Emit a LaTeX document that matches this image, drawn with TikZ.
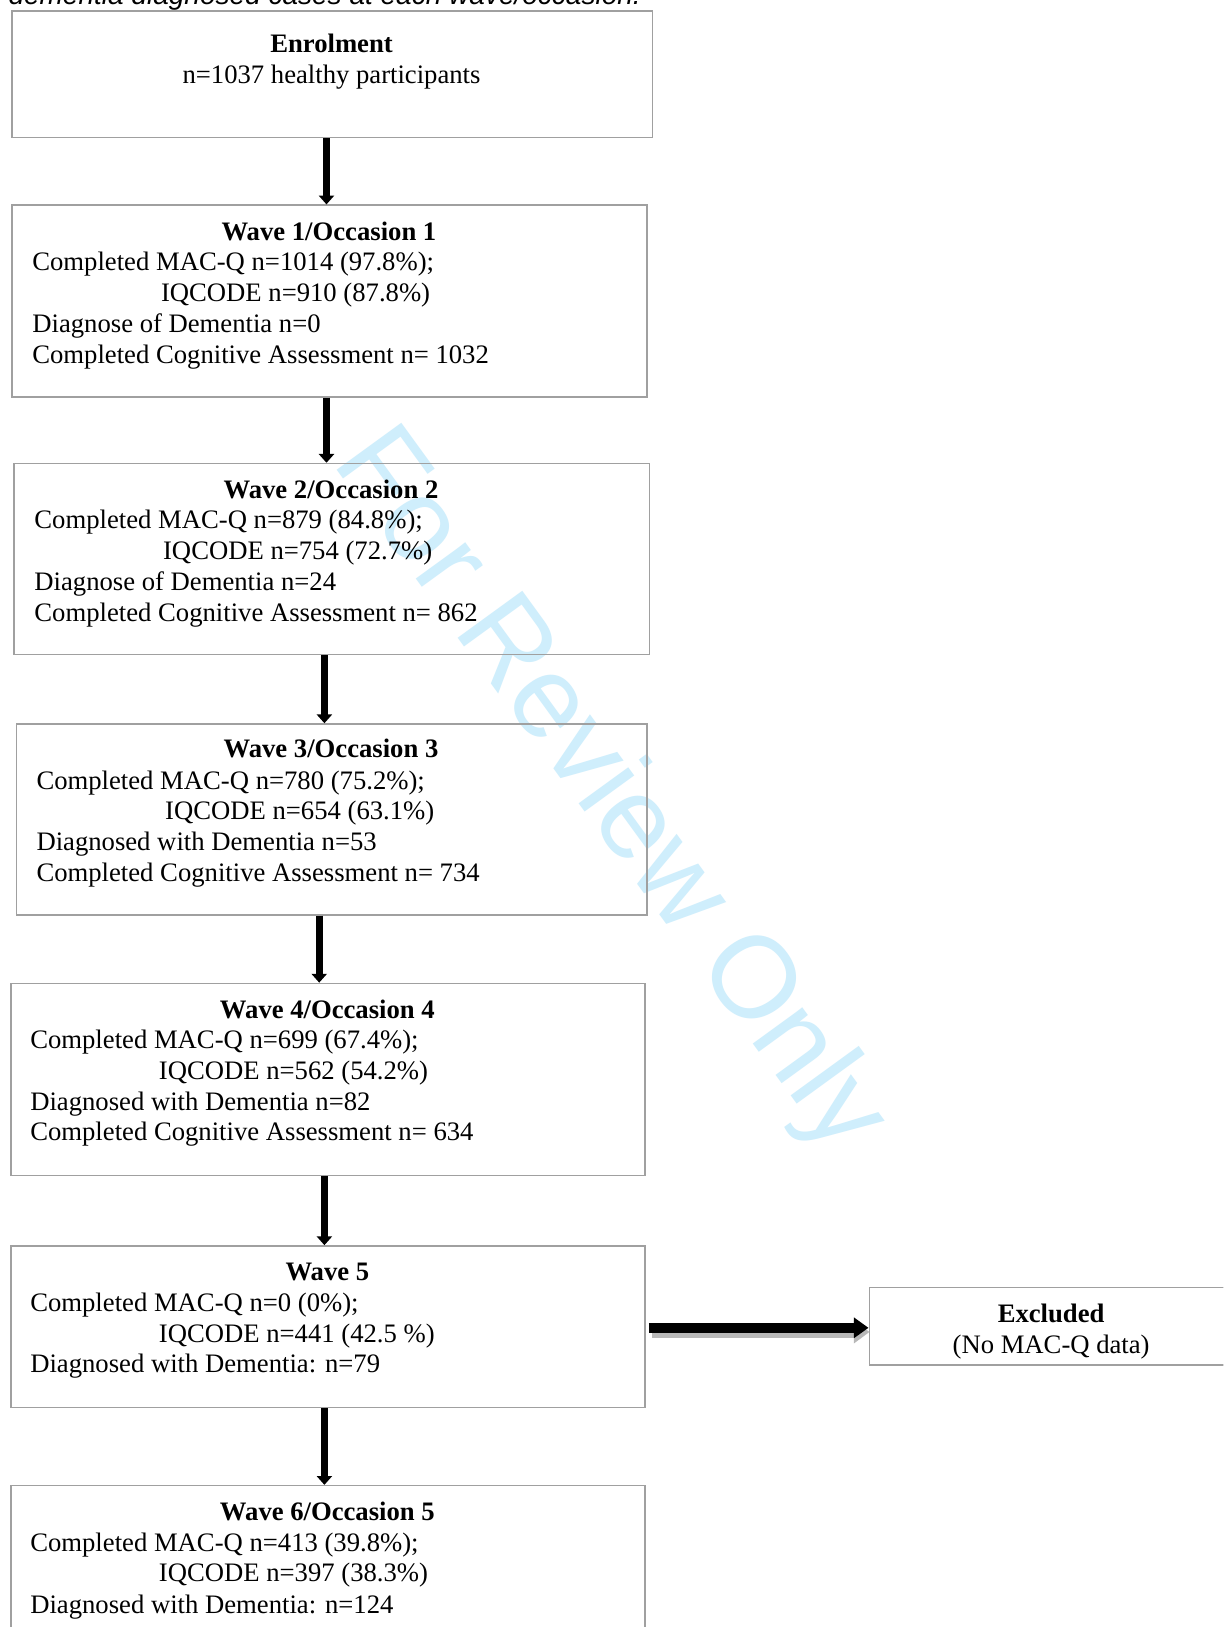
\documentclass[tikz,border=0pt]{standalone}
\usepackage{fontspec}
\setmainfont{Liberation Serif}
\newfontfamily\capfont{Liberation Sans}
\usetikzlibrary{arrows.meta}
\definecolor{boxgray}{RGB}{160,160,160}
\definecolor{wmblue}{RGB}{207,238,252}
\begin{document}
\begin{tikzpicture}[x=1pt,y=-1pt,
  box/.style={draw=boxgray, line width=1.3pt, rectangle, inner sep=0pt, anchor=north west},
  txt/.style={font=\fontsize{25.7}{29.5}\selectfont, inner sep=0pt, anchor=base west},
  ctxt/.style={font=\fontsize{25.7}{29.5}\selectfont, inner sep=0pt, anchor=base},
  ttl/.style={font=\bfseries\fontsize{25.7}{29.5}\selectfont, inner sep=0pt, anchor=base},
  varrow/.style={line width=7pt, -{Triangle[width=14.5pt,length=8.5pt]}},
  harrow/.style={line width=10pt, -{Triangle[width=19pt,length=14pt]}},
  hshadow/.style={line width=12pt, draw=black!28, -{Triangle[width=21pt,length=15pt]}},
  wmark/.style={font=\capfont\fontsize{112}{112}\selectfont, text=wmblue, rotate=-54, inner sep=0pt}
]
\useasboundingbox (0,0) rectangle (1179,1568);
\clip (0,0) rectangle (1179,1568);
\fill[white] (0,0) rectangle (1179,1568);

% watermark
\node[wmark] (wm) at (586,764) {For Review Only};

% caption (cut off at top)
\node[anchor=base west, inner sep=0pt, font=\capfont\itshape\fontsize{27}{30}\selectfont] (cap) at (8,4.7) {dementia diagnosed cases at each wave/occasion.};

% boxes
\node[box, minimum width=617pt, minimum height=122pt] (enrol) at (11,10) {};
\node[box, minimum width=612pt, minimum height=185pt] (w1) at (11,197) {};
\node[box, minimum width=612pt, minimum height=184pt] (w2) at (13,446) {};
\node[box, minimum width=608pt, minimum height=184pt] (w3) at (15,697) {};
\node[box, minimum width=611pt, minimum height=185pt] (w4) at (10,947) {};
\node[box, minimum width=611pt, minimum height=156pt] (w5) at (10,1200) {};
\node[box, minimum width=611pt, minimum height=200pt] (w6) at (10,1431) {};
\node[box, minimum width=352pt, minimum height=75pt] (excl) at (837,1240) {};

% Enrolment
\node[ttl] (et) at (319.5,50.5) {Enrolment};
\node[ctxt] (e1) at (319.5,80.5) {n=1037 healthy participants};

% Wave 1
\node[ttl] (w1t) at (317,231.5) {Wave 1/Occasion 1};
\node[txt] (w1a) at (31,260.5) {Completed MAC-Q n=1014 (97.8\%);};
\node[txt] (w1b) at (155,290.5) {IQCODE n=910 (87.8\%)};
\node[txt] (w1c) at (31,320.5) {Diagnose of Dementia n=0};
\node[txt] (w1d) at (31,350.5) {Completed Cognitive Assessment n= 1032};

% Wave 2
\node[ttl] (w2t) at (319,480.5) {Wave 2/Occasion 2};
\node[txt] (w2a) at (33,509.5) {Completed MAC-Q n=879 (84.8\%);};
\node[txt] (w2b) at (157,539.5) {IQCODE n=754 (72.7\%)};
\node[txt] (w2c) at (33,569.5) {Diagnose of Dementia n=24};
\node[txt] (w2d) at (33,598.5) {Completed Cognitive Assessment n= 862};

% Wave 3
\node[ttl] (w3t) at (319,730.5) {Wave 3/Occasion 3};
\node[txt] (w3a) at (35,760.5) {Completed MAC-Q n=780 (75.2\%);};
\node[txt] (w3b) at (159,789.5) {IQCODE n=654 (63.1\%)};
\node[txt] (w3c) at (35,819.5) {Diagnosed with Dementia n=53};
\node[txt] (w3d) at (35,849.5) {Completed Cognitive Assessment n= 734};

% Wave 4
\node[ttl] (w4t) at (315.5,981.5) {Wave 4/Occasion 4};
\node[txt] (w4a) at (29,1010.5) {Completed MAC-Q n=699 (67.4\%);};
\node[txt] (w4b) at (153,1040.5) {IQCODE n=562 (54.2\%)};
\node[txt] (w4c) at (29,1070.5) {Diagnosed with Dementia n=82};
\node[txt] (w4d) at (29,1099.5) {Completed Cognitive Assessment n= 634};

% Wave 5
\node[ttl] (w5t) at (315.5,1234.5) {Wave 5};
\node[txt] (w5a) at (29,1263.5) {Completed MAC-Q n=0 (0\%);};
\node[txt] (w5b) at (153,1293.5) {IQCODE n=441 (42.5 \%)};
\node[txt] (w5c) at (29,1322.5) {Diagnosed with Dementia: n=79};

% Wave 6
\node[ttl] (w6t) at (315.5,1465.5) {Wave 6/Occasion 5};
\node[txt] (w6a) at (29,1495.5) {Completed MAC-Q n=413 (39.8\%);};
\node[txt] (w6b) at (153,1524.5) {IQCODE n=397 (38.3\%)};
\node[txt] (w6c) at (29,1554.5) {Diagnosed with Dementia: n=124};

% Excluded
\node[ttl] (xt) at (1013,1274.5) {Excluded};
\node[ctxt] (x1) at (1013,1304.5) {(No MAC-Q data)};

% vertical arrows
\draw[varrow] ([xshift=-5.5pt]enrol.south) -- ([xshift=-5.5pt]enrol.south |- w1.north);
\draw[varrow] ([xshift=-3pt]w1.south) -- ([xshift=-3pt]w1.south |- w2.north);
\draw[varrow] ([xshift=-7pt]w2.south) -- ([xshift=-7pt]w2.south |- w3.north);
\draw[varrow] ([xshift=-12pt]w3.south) -- ([xshift=-12pt]w3.south |- w4.north);
\draw[varrow] ([xshift=-3.5pt]w4.south) -- ([xshift=-3.5pt]w4.south |- w5.north);
\draw[varrow] ([xshift=-3.5pt]w5.south) -- ([xshift=-3.5pt]w5.south |- w6.north);

% horizontal arrow with shadow
\coordinate (hs) at ([xshift=3pt,yshift=-1pt]w5.east);
\coordinate (he) at (excl.west |- hs);
\draw[hshadow] ([xshift=3pt,yshift=-4pt]hs) -- ([xshift=1pt,yshift=-4pt]he);
\draw[harrow] (hs) -- (he);
\end{tikzpicture}
\end{document}
